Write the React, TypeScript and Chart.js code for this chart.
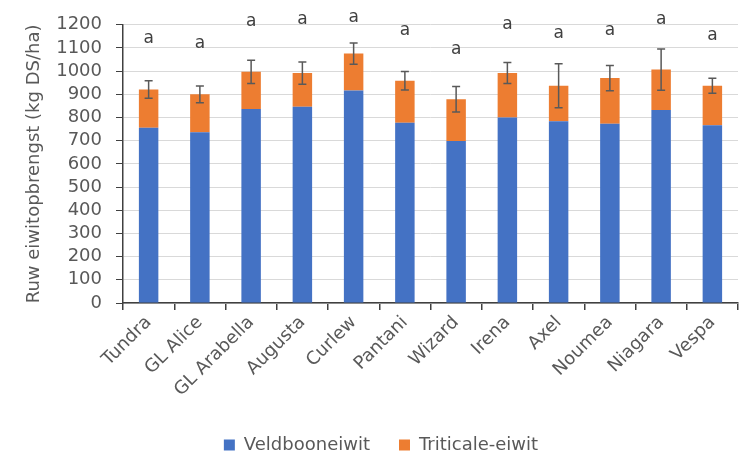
import React, { useEffect, useRef } from "react";
import { Chart, registerables } from "chart.js";

Chart.register(...registerables);

const categories = ["Tundra", "GL Alice", "GL Arabella", "Augusta", "Curlew", "Pantani", "Wizard", "Irena", "Axel", "Noumea", "Niagara", "Vespa"];
const veldbooneiwit = [756, 736, 837, 847, 917, 777, 699, 800, 784, 773, 833, 767];
const triticaleEiwit = [165, 164, 160, 145, 159, 182, 180, 192, 153, 197, 174, 170];
const errorValues = [38, 36, 50, 48, 46, 40, 55, 45, 95, 54, 89, 32];
const letterLabels = ["a", "a", "a", "a", "a", "a", "a", "a", "a", "a", "a", "a"];
const letterValues = [1140, 1118, 1216, 1224, 1233, 1173, 1093, 1200, 1162, 1173, 1221, 1152];

const FONT = "'DejaVu Sans', sans-serif";
const TEXT = "#595959";
const PAD_BOTTOM = 10;
const PLOT_BOTTOM = 303;

const overlayPlugin = {
  id: "overlay",
  afterDatasetsDraw(chart: any) {
    const { ctx } = chart;
    const x = chart.scales.x;
    const y = chart.scales.y;
    ctx.save();
    ctx.strokeStyle = "#595959";
    ctx.lineWidth = 1.5;
    categories.forEach((_, i) => {
      const total = veldbooneiwit[i] + triticaleEiwit[i];
      const cx = x.getPixelForValue(i);
      const yTop = y.getPixelForValue(total + errorValues[i]);
      const yBot = y.getPixelForValue(total - errorValues[i]);
      ctx.beginPath();
      ctx.moveTo(cx, yTop);
      ctx.lineTo(cx, yBot);
      ctx.moveTo(cx - 4, yTop);
      ctx.lineTo(cx + 4, yTop);
      ctx.moveTo(cx - 4, yBot);
      ctx.lineTo(cx + 4, yBot);
      ctx.stroke();
    });
    ctx.fillStyle = "#404040";
    ctx.font = `17px ${FONT}`;
    ctx.textAlign = "center";
    ctx.textBaseline = "middle";
    categories.forEach((_, i) => {
      ctx.fillText(letterLabels[i], x.getPixelForValue(i), y.getPixelForValue(letterValues[i]));
    });
    ctx.restore();
  },
};

export default function App() {
  const ref = useRef<HTMLCanvasElement | null>(null);
  useEffect(() => {
    if (!ref.current) return;
    const chart = new Chart(ref.current, {
      type: "bar",
      data: {
        labels: categories,
        datasets: [
          { label: "Veldbooneiwit", data: veldbooneiwit, backgroundColor: "#4472C4", barPercentage: 0.38, categoryPercentage: 1 },
          { label: "Triticale-eiwit", data: triticaleEiwit, backgroundColor: "#ED7D31", barPercentage: 0.38, categoryPercentage: 1 },
        ],
      },
      options: {
        responsive: false,
        animation: false,
        layout: { padding: { left: 24, right: 18, top: 23, bottom: PAD_BOTTOM } },
        plugins: {
          legend: {
            position: "bottom",
            labels: {
              boxWidth: 11,
              boxHeight: 11,
              padding: 29,
              color: TEXT,
              font: { family: FONT, size: 18 },
            },
          },
          tooltip: { enabled: false },
        },
        scales: {
          x: {
            stacked: true,
            grid: { offset: true, drawOnChartArea: false, tickLength: 7, tickColor: "#404040", lineWidth: 1.5 },
            border: { color: "#404040", width: 1.5 },
            ticks: { color: TEXT, font: { family: FONT, size: 18 }, minRotation: 45, maxRotation: 45, padding: 2 },
            afterFit(scale: any) {
              const lg = scale.chart.legend;
              scale.height = scale.chart.height - PAD_BOTTOM - (lg ? lg.height : 0) - PLOT_BOTTOM;
            },
          },
          y: {
            stacked: true,
            min: 0,
            max: 1200,
            ticks: {
              stepSize: 100,
              autoSkip: false,
              color: TEXT,
              font: { family: FONT, size: 18 },
              padding: 14,
              callback: (v: any) => String(v),
            },
            grid: { color: "#d9d9d9", lineWidth: 1, tickLength: 7, tickColor: "#404040" },
            border: { color: "#404040", width: 1.5 },
            title: { display: true, text: "Ruw eiwitopbrengst (kg DS/ha)", color: TEXT, font: { family: FONT, size: 18 }, padding: { top: 0, bottom: 0 } },
            afterFit(scale: any) {
              scale.width = 99;
            },
          },
        },
      },
      plugins: [overlayPlugin],
    });
    return () => chart.destroy();
  }, []);
  return (
    <div style={{ position: "fixed", left: 0, top: 0, width: 756, height: 474, background: "#fff" }}>
      <canvas ref={ref} width={756} height={474} />
    </div>
  );
}
